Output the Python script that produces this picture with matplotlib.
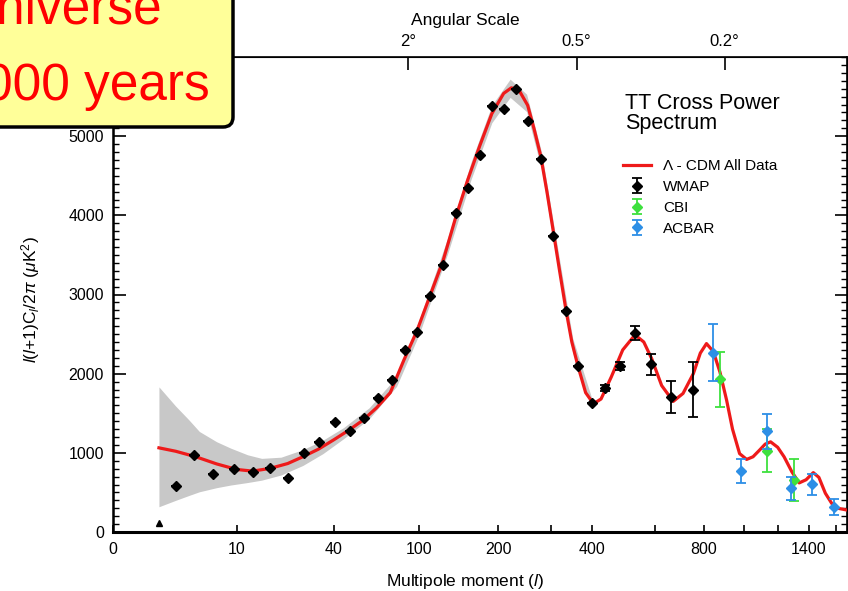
import numpy as np
import matplotlib
matplotlib.use("Agg")
import matplotlib.pyplot as plt
from matplotlib.patches import FancyBboxPatch
from matplotlib.transforms import IdentityTransform
from matplotlib.ticker import FixedLocator, FixedFormatter, MultipleLocator

plt.rcParams['font.family'] = ['Liberation Sans', 'DejaVu Sans']
plt.rcParams['mathtext.fontset'] = 'custom'
plt.rcParams['mathtext.rm'] = 'Liberation Sans'
plt.rcParams['mathtext.it'] = 'Liberation Sans:italic'

# ------------------------------------------------------------
# DATA
# ------------------------------------------------------------
# Lambda-CDM best fit curve
model_l = [2, 3, 4, 5, 7, 10, 13, 17, 22, 27, 33, 40, 48, 56, 65, 75, 86,
           98, 110, 125, 140, 155, 172, 190, 209, 222, 235, 252, 265, 278,
           291, 304, 319, 334, 348, 363, 383, 404, 425, 455, 490, 530, 560,
           588, 625, 670, 710, 754, 785, 813, 845, 877, 910, 940, 977, 1015,
           1050, 1087, 1120, 1152, 1195, 1235, 1285, 1333, 1380, 1430, 1470,
           1517, 1565, 1611, 1690]
model_cl = [1063, 1020, 975, 935, 860, 790, 769, 803, 865, 950, 1045, 1165,
            1290, 1412, 1570, 1760, 2169, 2547, 2960, 3430, 3980, 4440, 4880,
            5284, 5540, 5610, 5590, 5390, 5080, 4750, 4300, 3830, 3300, 2800,
            2400, 2100, 1760, 1620, 1680, 1960, 2300, 2490, 2400, 2190, 1850,
            1650, 1750, 2000, 2260, 2380, 2280, 2020, 1665, 1300, 990, 917,
            950, 1034, 1110, 1139, 1070, 950, 760, 620, 660, 750, 690, 490,
            360, 300, 275]

# cosmic variance band
band_l = [2, 3, 4, 5, 7, 9, 12, 15, 20, 27, 35, 45, 60, 80, 100, 130, 160,
          190, 220, 250, 280, 310, 350, 400]
band_lo = [319, 400, 460, 508, 560, 593, 625, 655, 720, 840, 990, 1180, 1430,
           1840, 2500, 3510, 4460, 5170, 5490, 5310, 4570, 3500, 2270, 1570]
band_hi = [1833, 1590, 1420, 1270, 1140, 1060, 975, 930, 945, 1040, 1160,
           1320, 1570, 1960, 2680, 3710, 4680, 5390, 5720, 5530, 4790, 3740,
           2450, 1680]

# WMAP
wmap_l = [3, 4.5, 6.5, 9.6, 13, 17, 22, 27.5, 33.4, 40.5, 48.3, 56.6, 65.7,
          76, 87, 98, 111, 125, 140, 155, 172, 190, 209, 230, 252, 278, 304,
          334, 363, 400, 436, 481, 530, 585, 660, 754]
wmap_cl = [580, 971, 728, 794, 753, 811, 685, 992, 1135, 1391, 1274, 1446,
           1694, 1917, 2295, 2522, 2976, 3367, 4035, 4350, 4767, 5385, 5347,
           5599, 5195, 4716, 3745, 2787, 2093, 1627, 1816, 2093, 2513, 2119,
           1706, 1800]
wmap_err = [0, 0, 0, 0, 0, 0, 0, 0, 0, 0, 0, 0, 0, 0, 0, 0, 0, 0, 0, 0, 0, 0,
            0, 0, 0, 0, 0, 0, 0, 0, 40, 50, 85, 130, 200, 350]
wmap_low_l = [2]
wmap_low_cl = [117]

# CBI
cbi_l = [877, 1129, 1300]
cbi_cl = [1929, 1025, 656]
cbi_err = [350, 270, 260]

# ACBAR
acbar_l = [842, 984, 1129, 1277, 1423, 1581]
acbar_cl = [2266, 769, 1274, 551, 601, 319]
acbar_err = [360, 150, 220, 150, 135, 100]

# axis ticks
x_ticks = [0.5, 10, 40, 100, 200, 300, 400, 600, 800, 1000, 1200, 1400, 1600]
x_labels = ['0', '10', '40', '100', '200', '', '400', '', '800', '', '',
            '1400', '']
y_ticks = [0, 1000, 2000, 3000, 4000, 5000]
ang_ticks = [90, 360, 900]
ang_labels = ['2°', '0.5°', '0.2°']


def fwd(l):
    return np.power(np.clip(l, 0, None), 0.25)


def inv(x):
    return np.power(np.clip(x, 0, None), 4)


fig = plt.figure(figsize=(8.48, 5.91), dpi=100)
ax = fig.add_axes([113 / 848, 59 / 591, 734 / 848, 475 / 591])
ax.set_xscale('function', functions=(fwd, inv))
ax.set_xlim(0.5, 1683)
ax.set_ylim(0, 6000)

ax.fill_between(band_l, band_lo, band_hi, color='#c8c8c8', lw=0, zorder=1)
line, = ax.plot(model_l, model_cl, color='#ee1a1a', lw=2.3, zorder=3)

eb_w = ax.errorbar(wmap_l, wmap_cl, yerr=wmap_err, fmt='D', color='black',
                   ms=5, capsize=3.5, elinewidth=1.3, capthick=1.3, zorder=4)
ax.plot(wmap_low_l, wmap_low_cl, '^', color='black', ms=5, zorder=4)
eb_c = ax.errorbar(cbi_l, cbi_cl, yerr=cbi_err, fmt='D', color='#3ee03e',
                   ms=5, capsize=3.5, elinewidth=1.3, capthick=1.3, zorder=4)
eb_a = ax.errorbar(acbar_l, acbar_cl, yerr=acbar_err, fmt='D',
                   color='#2d8fe6', ms=5, capsize=3.5, elinewidth=1.3,
                   capthick=1.3, zorder=5)

# ticks
ax.xaxis.set_major_locator(FixedLocator(x_ticks))
ax.xaxis.set_major_formatter(FixedFormatter(x_labels))
ax.xaxis.set_minor_locator(FixedLocator([]))
ax.yaxis.set_major_locator(FixedLocator(y_ticks))
ax.yaxis.set_minor_locator(MultipleLocator(100))
ax.tick_params(axis='x', which='major', direction='in', length=5, width=1.2,
               labelsize=11.5, pad=7.5)
ax.tick_params(axis='y', which='major', direction='in', length=9, width=1.2,
               right=True, labelsize=11.5, pad=6.5)
ax.tick_params(axis='y', which='minor', direction='in', length=4.5,
               width=1.0, right=True)
for side, w in [('left', 1.8), ('bottom', 2.2), ('top', 1.2), ('right', 1.2)]:
    ax.spines[side].set_linewidth(w)

ax.set_xlabel(r'Multipole moment ($l$)', fontsize=12.5)
ax.xaxis.set_label_coords(0.48, -0.085)
ax.set_ylabel(r'$l(l$+1)C$_l$/2$\pi$ ($\mu$K$^2$)', fontsize=12.5)
ax.yaxis.set_label_coords(-0.097, 0.49)

# top axis : angular scale
ax2 = ax.twiny()
ax2.set_xscale('function', functions=(fwd, inv))
ax2.set_xlim(ax.get_xlim())
ax2.xaxis.set_major_locator(FixedLocator(ang_ticks))
ax2.xaxis.set_major_formatter(FixedFormatter(ang_labels))
ax2.xaxis.set_minor_locator(FixedLocator([]))
ax2.tick_params(axis='x', direction='in', length=9, width=1.2,
                labelsize=12, pad=6)
ax2.set_xlabel('Angular Scale', fontsize=12.5)
ax2.xaxis.set_label_coords(0.48, 1.068)

# title + legend
ax.text(0.6975, 0.925, 'TT Cross Power\nSpectrum', transform=ax.transAxes,
        fontsize=15.5, va='top', ha='left', linespacing=0.95)
ax.legend([line, eb_w, eb_c, eb_a],
          ['Λ - CDM All Data', 'WMAP', 'CBI', 'ACBAR'],
          loc='upper left', bbox_to_anchor=(0.695, 0.785), frameon=False,
          fontsize=11, handlelength=1.8, handletextpad=0.8,
          labelspacing=0.45, borderpad=0, borderaxespad=0)

# yellow overlay box from the slide
box = FancyBboxPatch((-10, 591 - 127), 243, 140,
                     boxstyle='round,pad=0,rounding_size=10',
                     transform=IdentityTransform(), fc='#ffff99',
                     ec='black', lw=2.5, zorder=10)
fig.add_artist(box)
fig.text(162, 591 - 23, 'Universe', transform=IdentityTransform(),
         color='red', fontsize=37, ha='right', va='baseline', zorder=11)
fig.text(210, 591 - 100, '380,000 years', transform=IdentityTransform(),
         color='red', fontsize=37, ha='right', va='baseline', zorder=11)

fig.savefig('out.png', dpi=100)
